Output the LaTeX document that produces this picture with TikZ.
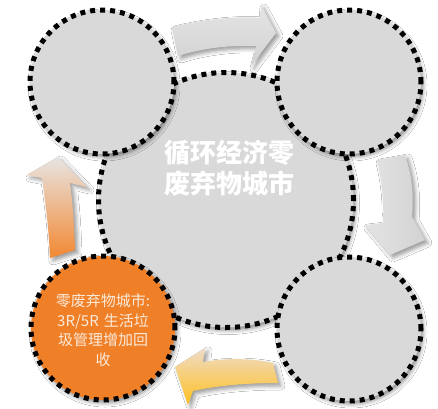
\documentclass[tikz,border=0pt]{standalone}
\usepackage{fontspec}
\newfontfamily\cjk{Noto Sans CJK SC}
\usetikzlibrary{shadows.blur}
\definecolor{cgray}{RGB}{217,217,217}
\definecolor{corange}{RGB}{240,128,40}
\definecolor{ctext}{RGB}{250,234,218}
\definecolor{agray1}{RGB}{228,228,228}
\definecolor{agray2}{RGB}{210,210,210}
\definecolor{apale}{RGB}{232,228,226}
\definecolor{aorange}{RGB}{242,136,50}
\definecolor{apeach}{RGB}{238,220,200}
\definecolor{ayellow}{RGB}{255,192,32}
\tikzset{
  dotring/.style={circle, inner sep=0pt, draw=black, line width=5pt,
    dash pattern=on 5pt off 5pt,
    blur shadow={shadow xshift=2pt, shadow yshift=-3pt, shadow blur radius=4pt, shadow opacity=45}},
  smallc/.style={dotring, fill=cgray, minimum size=144pt},
  bigc/.style={dotring, fill=cgray, minimum size=255pt},
  orangec/.style={dotring, fill=corange, minimum size=144pt},
  arrowshape/.style={draw=none,
    blur shadow={shadow xshift=3pt, shadow yshift=-3pt, shadow blur radius=4pt, shadow opacity=40}},
  bigtext/.style={text=white, font=\cjk\bfseries\fontsize{26pt}{31pt}\selectfont, align=center},
  smalltext/.style={text=ctext, font=\cjk\fontsize{15pt}{19.5pt}\selectfont, align=center, text width=110pt}
}
\begin{document}
\begin{tikzpicture}[x=1pt, y=-1pt]
\useasboundingbox[fill=white] (0,0) rectangle (438,408);
% arrows
\path[arrowshape, top color=agray1, bottom color=agray2]
  (172,27) .. controls (200,20) and (232,16) .. (260,18) -- (261,5) -- (276,33) -- (251,66)
  -- (256,46) .. controls (230,45) and (203,48) .. (178,56) -- cycle;
\path[arrowshape, left color=agray1, right color=agray2]
  (377,160) -- (405,155) .. controls (412,175) and (414,196) .. (412,217) -- (425,240) -- (390,255)
  -- (365,225) -- (383,223) .. controls (384,200) and (382,180) .. (377,160) -- cycle;
\path[arrowshape, top color=apeach, bottom color=ayellow]
  (273,363) .. controls (250,358) and (225,358) .. (203,362) -- (205,348) -- (175,367)
  -- (188,405) -- (193,391) .. controls (220,385) and (250,383) .. (278,383) -- cycle;
\path[arrowshape, top color=apale, bottom color=aorange]
  (75,250) .. controls (74,225) and (73,205) .. (70,183) -- (87,187) -- (58,157) -- (27,175)
  -- (42,178) .. controls (46,205) and (49,232) .. (50,258) -- cycle;
% circles
\node[bigc] (big) at (226,200) {};
\node[smallc] (tl) at (102,82) {};
\node[smallc] (tr) at (349,82) {};
\node[smallc] (br) at (349,329) {};
\node[orangec] (bl) at (103,328) {};
% texts
\node[bigtext] (title) at (229,168) {循环经济零\\废弃物城市};
\node[smalltext] (bltext) at (103,330) {零废弃物城市:\\3R/5R 生活垃\\圾管理增加回\\收};
\end{tikzpicture}
\end{document}
